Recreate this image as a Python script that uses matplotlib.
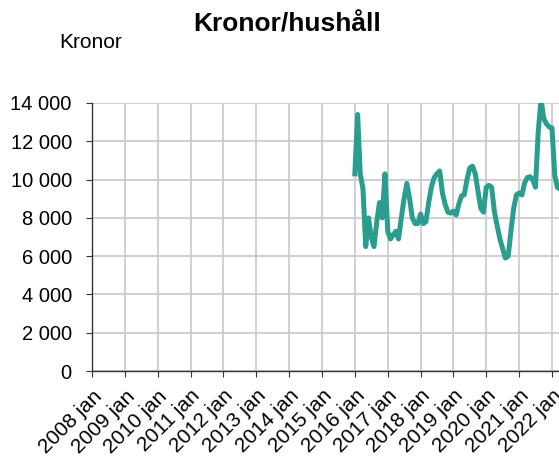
import datetime as dt

import matplotlib
matplotlib.use("Agg")
import matplotlib.pyplot as plt
import matplotlib.dates as mdates
from matplotlib.ticker import FuncFormatter, MultipleLocator

# monthly values from 2016 jan onwards, kronor per household
start_year = 2016
values = [
    10300, 13400, 10300, 9500, 6500, 8000, 7000, 6500, 7800, 8800, 8000, 10300,
    7300, 6900, 7100, 7300, 6900, 8000, 9000, 9800, 9000, 8000, 7700, 7700,
    8200, 7700, 7800, 8800, 9600, 10100, 10300, 10450, 9300, 8700, 8300, 8250,
    8350, 8150, 8700, 9150, 9200, 10000, 10600, 10700, 10300, 9400, 8500, 8300,
    9600, 9700, 9600, 8300, 7600, 6900, 6400, 5900, 6000, 7300, 8500, 9200,
    9300, 9200, 9800, 10100, 10150, 10000, 9600, 12500, 14200, 13200, 12900, 12750,
    12700, 10200, 9600, 9500,
]
dates = [dt.date(start_year + i // 12, i % 12 + 1, 1) for i in range(len(values))]

tick_years = list(range(2008, 2023))
tick_labels = [f"{y} jan" for y in tick_years]

plt.rcParams["font.family"] = ["Liberation Sans", "DejaVu Sans"]

fig = plt.figure(figsize=(5.59, 4.59), dpi=100)
ax = fig.add_axes([0.1646, 0.1917, 0.8354, 0.5839])

ax.plot(dates, values, color="#2a9d8f", linewidth=3.6, solid_joinstyle="round")

# x range: 2008 jan at the left edge, the right edge falls in march 2022
x0 = mdates.date2num(dt.date(2008, 1, 1))
x1 = mdates.date2num(dt.date(2022, 1, 1))
per_px = (x1 - x0) / (552 - 92)
ax.set_xlim(x0, x0 + per_px * (559 - 92))
ax.set_ylim(0, 14000)

ax.set_xticks([dt.date(y, 1, 1) for y in tick_years])
ax.set_xticklabels(tick_labels, rotation=45, ha="right", rotation_mode="anchor",
                   fontsize=15)
ax.yaxis.set_major_locator(MultipleLocator(2000))
ax.yaxis.set_major_formatter(FuncFormatter(lambda v, _: f"{int(v):,}".replace(",", " ")))
ax.tick_params(axis="y", labelsize=14.5, length=4.5, color="#333333", pad=10)
ax.tick_params(axis="x", length=4, color="#333333", pad=7)

ax.grid(True, color="#cccccc", linewidth=1.3)
ax.set_axisbelow(True)
for side in ("top", "right"):
    ax.spines[side].set_visible(False)
for side in ("left", "bottom"):
    ax.spines[side].set_color("#333333")
    ax.spines[side].set_linewidth(1.0)

fig.text(0.513, 0.946, "Kronor/hushåll", ha="center", va="center",
         fontsize=19, fontweight="bold")
fig.text(0.162, 0.908, "Kronor", ha="center", va="center", fontsize=15)

fig.savefig("out.png", dpi=100)
